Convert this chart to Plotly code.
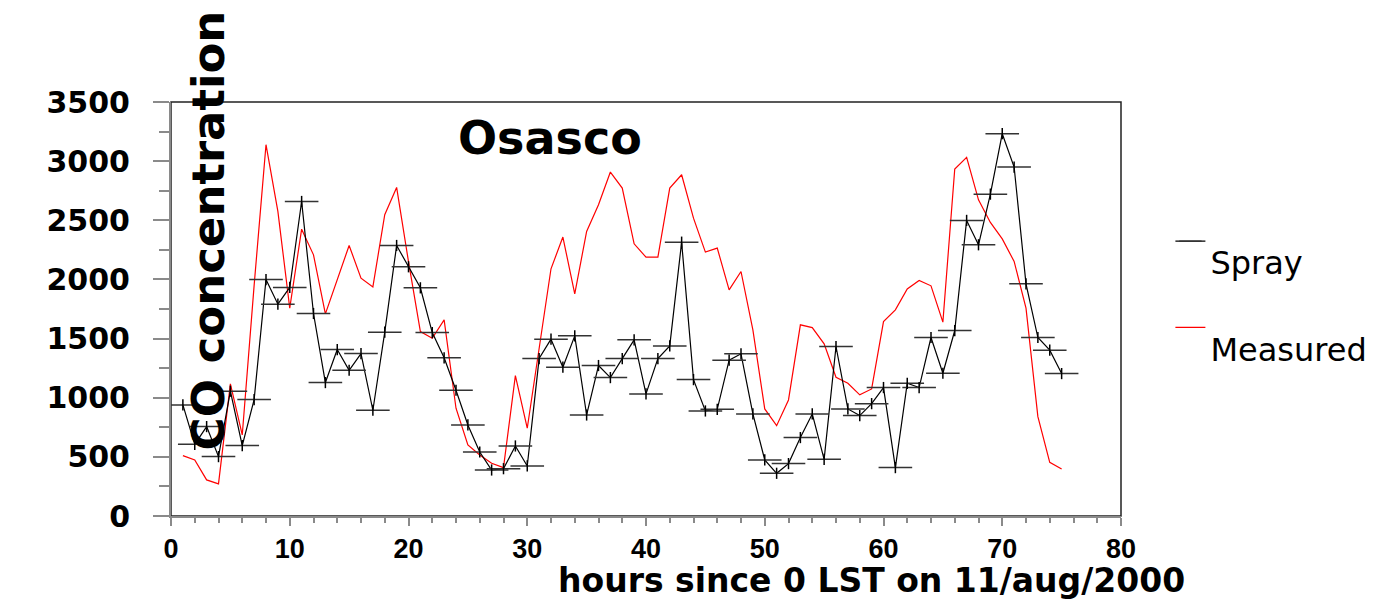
import plotly.graph_objects as go

hours = list(range(1, 76))
spray = [939, 606, 756, 502, 1055, 595, 984, 1999, 1791, 1932,
         2659, 1712, 1128, 1407, 1232, 1373, 894, 1554, 2287, 2107,
         1929, 1551, 1337, 1063, 770, 541, 389, 400, 592, 423,
         1331, 1495, 1258, 1523, 854, 1272, 1170, 1331, 1489, 1032,
         1331, 1438, 2315, 1153, 888, 902, 1317, 1371, 863, 474,
         361, 443, 663, 863, 479, 1433, 905, 849, 950, 1086,
         409, 1122, 1086, 1509, 1207, 1568, 2499, 2293, 2721, 3232,
         2950, 1963, 1509, 1402, 1204]
measured = [510, 474, 305, 271, 1117, 685, 1950, 3139, 2575, 1757,
            2425, 2208, 1709, 1997, 2287, 2011, 1937, 2547, 2778, 2150,
            1559, 1503, 1658, 911, 601, 516, 446, 409, 1187, 742,
            1433, 2090, 2358, 1878, 2406, 2631, 2908, 2772, 2301, 2188,
            2188, 2772, 2885, 2518, 2231, 2265, 1912, 2067, 1574, 905,
            764, 981, 1616, 1593, 1455, 1173, 1122, 1024, 1074, 1644,
            1743, 1920, 1991, 1946, 1639, 2933, 3032, 2673, 2482, 2343,
            2152, 1757, 840, 454, 398]

x_ticks = [0, 10, 20, 30, 40, 50, 60, 70, 80]
y_ticks = [0, 500, 1000, 1500, 2000, 2500, 3000, 3500]

title_text = "Osasco"
x_title = "hours since 0 LST on 11/aug/2000"
y_title = "CO concentration"
series_names = ["Spray", "Measured"]

GRAY = "#8a8a8a"
fig = go.Figure()

fig.add_trace(go.Scatter(
    x=hours, y=measured, mode="lines", name="<br>" + series_names[1],
    line=dict(color="#ff0000", width=1.2), legendrank=2))
fig.add_trace(go.Scatter(
    x=hours, y=spray, mode="lines+markers", name="<br>" + series_names[0],
    line=dict(color="#000000", width=1.2),
    marker=dict(symbol="line-ew", size=24, line=dict(color="#333333", width=1.5)),
    legendrank=1))
fig.add_trace(go.Scatter(
    x=hours, y=spray, mode="markers", showlegend=False, hoverinfo="skip",
    marker=dict(symbol="line-ns", size=8, line=dict(color="#000000", width=1.5))))

# the page body has an 8px default margin; margins below compensate for it
fig.update_layout(
    width=1389, height=602,
    margin=dict(l=163, r=276, t=94, b=94, autoexpand=False),
    paper_bgcolor="white", plot_bgcolor="white",
    showlegend=True,
    legend=dict(x=1.052, y=0.78, xanchor="left", yanchor="top",
                font=dict(family="DejaVu Sans", size=32, color="black"),
                bgcolor="rgba(0,0,0,0)", tracegroupgap=0),
    xaxis=dict(range=[0, 80], tickvals=x_ticks, ticktext=[str(v) for v in x_ticks],
               showgrid=False, zeroline=False,
               showline=True, linecolor=GRAY, linewidth=2,
               ticks="outside", ticklen=8, tickwidth=2, tickcolor=GRAY,
               minor=dict(dtick=2, ticks="outside", ticklen=5, tickwidth=1.5, tickcolor=GRAY),
               ticklabelstandoff=0,
               tickfont=dict(family="Liberation Sans", size=27, color="black", weight="bold")),
    xaxis2=dict(range=[0, 80], overlaying="x", side="bottom", anchor="y",
                tickvals=x_ticks, showticklabels=False, showgrid=False, zeroline=False,
                showline=False, ticks="inside", ticklen=7, tickwidth=2, tickcolor=GRAY,
                minor=dict(dtick=2, ticks="inside", ticklen=5, tickwidth=1.5, tickcolor=GRAY)),
    yaxis=dict(range=[0, 3500], tickvals=y_ticks, ticktext=[str(v) for v in y_ticks],
               showgrid=False, zeroline=False,
               showline=True, linecolor=GRAY, linewidth=2,
               ticks="outside", ticklen=16, tickwidth=2, tickcolor=GRAY,
               minor=dict(dtick=250, ticks="outside", ticklen=10, tickwidth=1.5, tickcolor=GRAY),
               ticklabelstandoff=17,
               tickfont=dict(family="DejaVu Sans", size=30, color="black", weight="bold")),
    yaxis2=dict(range=[0, 3500], overlaying="y", side="left", anchor="x",
                tickvals=y_ticks, showticklabels=False, showgrid=False, zeroline=False,
                showline=False, ticks="inside", ticklen=16, tickwidth=2, tickcolor=GRAY,
                minor=dict(dtick=250, ticks="inside", ticklen=10, tickwidth=1.5, tickcolor=GRAY)),
    shapes=[dict(type="rect", xref="paper", yref="paper", x0=0, x1=1, y0=0, y1=1,
                 line=dict(color="#222222", width=1.5), layer="below")],
    annotations=[
        dict(text=title_text, xref="paper", yref="paper", x=0.399, y=0.913,
             showarrow=False, xanchor="center", yanchor="middle",
             font=dict(family="DejaVu Sans", size=46, color="black", weight="bold")),
        dict(text=y_title, xref="paper", yref="paper", x=0.039, y=0.69,
             showarrow=False, textangle=-90, xanchor="center", yanchor="middle",
             font=dict(family="DejaVu Sans", size=45, color="black", weight="bold")),
        dict(text=x_title, xref="paper", yref="paper", x=0.737, y=-0.156,
             showarrow=False, xanchor="center", yanchor="middle",
             font=dict(family="DejaVu Sans", size=33, color="black", weight="bold")),
    ],
)

fig.write_html("out.html")
